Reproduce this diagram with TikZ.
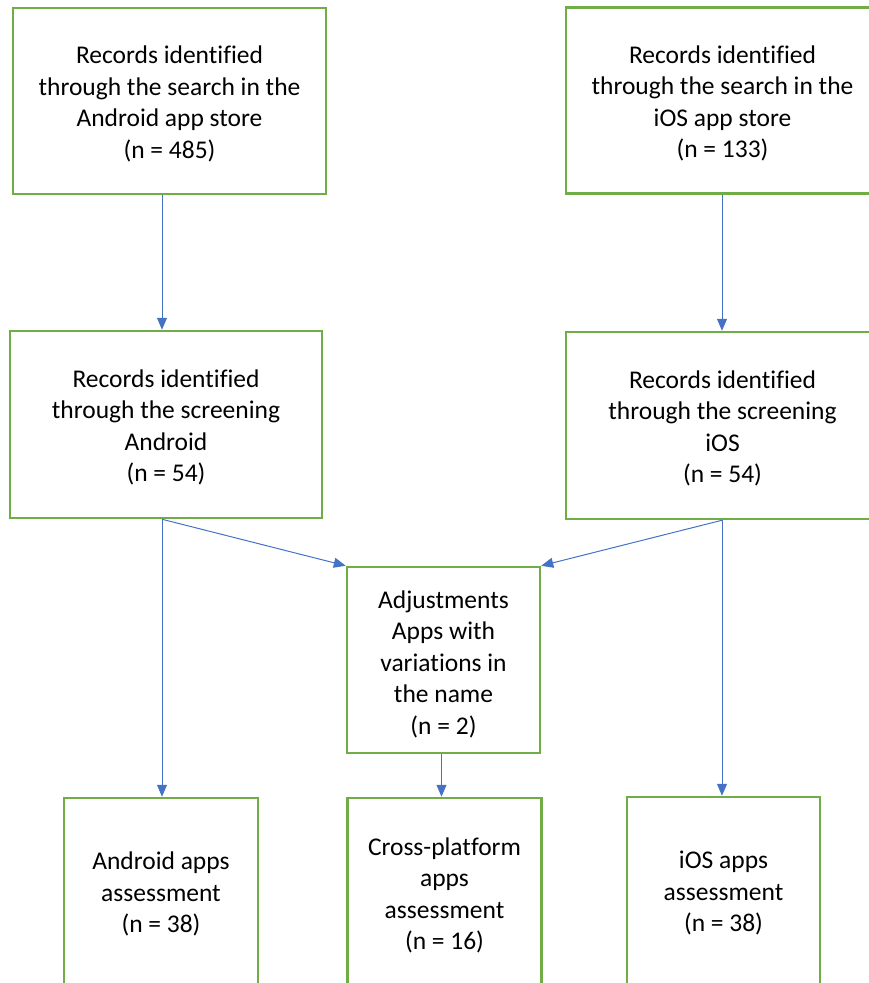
\documentclass[tikz,border=0pt]{standalone}
\usepackage{fontspec}
\setmainfont{Carlito}[Ligatures=CommonOff]
\usetikzlibrary{arrows.meta}
\definecolor{boxgreen}{HTML}{70AD47}
\definecolor{arrowblue}{HTML}{4472C4}
\begin{document}
\begin{tikzpicture}[x=1pt,y=-1pt,
  txt/.style={align=center, inner sep=0pt, yshift=-3pt, font=\fontsize{25.5}{31.5}\selectfont},
  box/.style={draw=boxgreen, line width=2.5pt, fill=white, inner sep=0pt},
  bigbox/.style={box, minimum width=313pt, minimum height=186pt},
  smallbox/.style={box, minimum width=194pt, minimum height=188pt},
  arr/.style={draw=arrowblue, line width=1pt, -{Triangle[length=12pt,width=10pt]}}]
\useasboundingbox (0,0) rectangle (869,983);
\clip (0,0) rectangle (869,983);
\node[bigbox, label={[txt]center:{Records identified\\through the search in the\\Android app store\\(n = 485)}}] (A) at (169.5,101) {};
\node[bigbox, label={[txt]center:{Records identified\\through the search in the\\iOS app store\\(n = 133)}}] (B) at (722.5,100.5) {};
\node[bigbox, minimum width=312pt, minimum height=187pt, label={[txt]center:{Records identified\\through the screening\\Android\\(n = 54)}}] (C) at (166,424.5) {};
\node[bigbox, minimum height=187pt, label={[txt]center:{Records identified\\through the screening\\iOS\\(n = 54)}}] (D) at (722.5,425.5) {};
\node[box, minimum width=193pt, minimum height=186pt, label={[txt, yshift=-1pt]center:{Adjustments\\Apps with\\variations in\\the name\\(n = 2)}}] (E) at (443.5,660) {};
\node[smallbox, label={[txt, yshift=1pt]center:{Android apps\\assessment\\(n = 38)}}] (F) at (161,892) {};
\node[smallbox, minimum height=191pt, label={[txt, yshift=1pt]center:{Cross-platform\\apps\\assessment\\(n = 16)}}] (G) at (444.5,893.5) {};
\node[smallbox, minimum width=193pt, minimum height=188pt, label={[txt, yshift=1pt]center:{iOS apps\\assessment\\(n = 38)}}] (H) at (723.5,891) {};
\coordinate (xl) at (162,0);
\coordinate (xr) at (722,0);
\draw[arr] (xl |- A.south) -- (xl |- C.north);
\draw[arr] (xr |- B.south) -- (xr |- D.north);
\draw[arr] (xl |- C.south) -- (xl |- F.north);
\draw[arr] (xr |- D.south) -- (xr |- H.north);
\draw[arr] (xl |- C.south) -- (E.north west);
\draw[arr] (xr |- D.south) -- (E.north east);
\draw[arr] (E.south -| G.north) ++(-3,0) coordinate (es) (es) -- (es |- G.north);
\end{tikzpicture}
\end{document}
